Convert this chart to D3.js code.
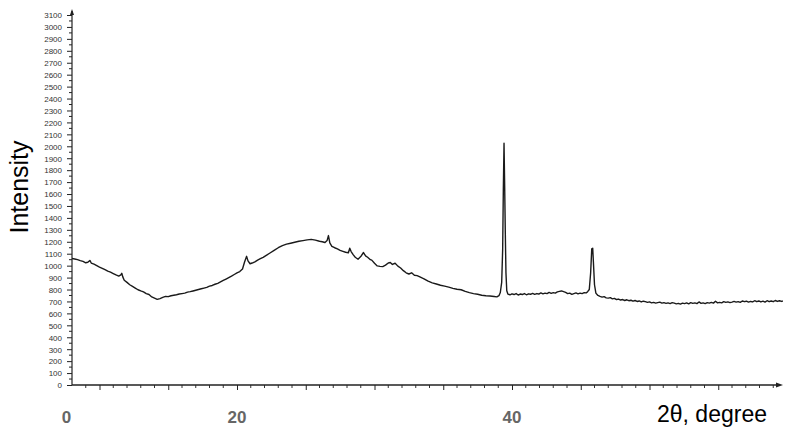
<!DOCTYPE html>
<html><head><meta charset="utf-8">
<script src="https://cdn.jsdelivr.net/npm/d3@7"></script>
<style>html,body{margin:0;padding:0;background:#fff;}svg{display:block;}</style>
</head><body>
<svg id="chart" width="791" height="437"></svg>
<script>
const angles = [8.0,8.2,8.4,8.6,8.8,9.0,9.15,9.3,9.4,9.6,9.8,10.0,10.2,10.4,10.6,10.8,11.0,11.2,11.4,11.55,11.62,11.7,11.8,12.0,12.2,12.4,12.6,12.8,13.0,13.2,13.4,13.6,13.8,14.0,14.2,14.4,14.6,14.8,15.0,15.2,15.4,15.6,15.8,16.0,16.2,16.4,16.6,16.8,17.0,17.2,17.4,17.6,17.8,18.0,18.2,18.4,18.6,18.8,19.0,19.2,19.4,19.6,19.8,20.0,20.2,20.4,20.55,20.7,20.8,20.95,21.1,21.3,21.5,21.7,21.9,22.1,22.4,22.7,23.0,23.3,23.6,23.9,24.2,24.5,24.8,25.1,25.4,25.7,26.0,26.2,26.4,26.55,26.65,26.75,26.9,27.1,27.3,27.5,27.7,27.9,28.1,28.2,28.3,28.46,28.6,28.8,29.0,29.2,29.35,29.5,29.7,29.8,30.0,30.2,30.4,30.6,30.8,31.0,31.15,31.3,31.5,31.7,31.9,32.1,32.3,32.5,32.7,32.9,33.1,33.3,33.6,33.9,34.2,34.5,34.8,35.1,35.4,35.7,36.0,36.3,36.6,36.9,37.2,37.5,37.8,38.1,38.4,38.7,38.9,39.05,39.15,39.25,39.32,39.37,39.42,39.47,39.51,39.56,39.62,
39.7,39.85,40.0,40.15,40.3,40.45,40.6,40.75,40.9,41.05,41.2,41.35,41.5,41.65,41.8,41.95,42.1,42.25,42.4,42.55,42.7,42.85,43.0,43.15,43.3,43.45,43.6,43.75,43.9,44.05,44.2,44.35,44.5,44.65,44.8,44.95,45.1,45.25,45.4,45.5,45.62,45.72,45.8,45.87,45.92,46.0,46.1,46.25,
46.4,46.55,46.7,46.85,47.0,47.15,47.3,47.45,47.6,47.75,47.9,48.05,48.2,48.35,48.5,48.65,48.8,48.95,49.1,49.25,49.4,49.55,49.7,49.85,50.0,50.15,50.3,50.45,50.6,50.75,50.9,51.05,51.2,51.35,51.5,51.65,51.8,51.95,52.1,52.25,52.4,52.55,52.7,52.85,53.0,53.15,53.3,53.45,53.6,53.75,53.9,54.05,54.2,54.35,54.5,54.65,54.8,54.95,55.1,55.25,55.4,55.55,55.7,55.85,56.0,56.15,56.3,56.45,56.6,56.75,56.9,57.05,57.2,57.35,57.5,57.65,57.8,57.95,58.1,58.25,58.4,58.55,58.7,58.85,59.0,59.15,59.3,59.45,59.6,59.7];
const intensity = [1060,1056,1050,1042,1036,1024,1028,1044,1022,1012,1000,988,978,966,954,946,934,922,912,922,936,904,878,860,840,826,812,798,788,780,766,758,738,728,718,724,734,742,740,748,752,756,762,766,770,778,782,788,794,800,806,812,818,828,834,844,852,864,876,888,900,912,926,940,950,972,1030,1078,1040,1016,1022,1032,1046,1058,1070,1084,1106,1128,1150,1168,1180,1188,1196,1204,1210,1216,1220,1214,1204,1200,1194,1210,1252,1190,1162,1150,1140,1128,1120,1112,1108,1146,1118,1090,1070,1054,1076,1110,1082,1070,1050,1046,1020,998,994,992,1004,1022,1026,1010,1020,996,980,958,940,930,940,920,916,906,890,870,856,846,836,828,820,810,802,798,784,774,766,760,752,748,746,742,738,748,775,860,1130,1640,2025,1640,1300,940,790,
762,756,764,758,766,754,762,758,766,756,764,760,768,760,766,762,772,764,770,766,776,768,774,770,780,784,788,782,776,766,770,760,766,772,764,770,766,774,772,782,800,940,1140,1146,1030,840,770,750,
742,736,740,730,728,732,722,726,716,720,712,716,708,714,706,710,702,708,700,704,696,702,698,692,696,688,692,686,690,694,686,690,684,688,682,690,686,680,684,678,686,682,688,680,690,684,688,682,696,684,688,682,690,686,692,686,702,688,692,688,698,692,696,690,694,700,694,698,692,704,698,702,694,700,696,706,698,704,696,702,694,706,698,704,698,708,700,706,700,704];
const yTickValues = [0,100,200,300,400,500,600,700,800,900,1000,1100,1200,1300,1400,1500,1600,1700,1800,1900,2000,2100,2200,2300,2400,2500,2600,2700,2800,2900,3000,3100];
const xTickLabels = ["0","20","40"];
const xTickLabelAt = [7.6,20,40];
const xTitle = "2θ, degree";
const yTitle = "Intensity";

const svg = d3.select("#chart");
const x = d3.scaleLinear().domain([8, 60]).range([72, 787]);
const y = d3.scaleLinear().domain([0, 3100]).range([385, 15]);

// Y axis
const gy = svg.append("g").attr("transform","translate(72,0)");
gy.call(d3.axisLeft(y).tickValues(yTickValues).tickSize(5).tickFormat(d3.format("d")));
gy.select(".domain").remove();
gy.selectAll(".tick line").attr("stroke","#222");
gy.selectAll(".tick text").attr("font-family","Liberation Sans, Arial, sans-serif").attr("font-size","8px").attr("fill","#333").attr("x",-10).attr("dy","0.35em");
const minorY = d3.range(50, 3100, 100);
gy.selectAll(".minor").data(minorY).enter().append("line")
  .attr("x1",-3).attr("x2",0).attr("y1",d=>y(d)).attr("y2",d=>y(d)).attr("stroke","#222");
svg.append("line").attr("x1",72).attr("x2",72).attr("y1",y(0)).attr("y2",11).attr("stroke","#222").attr("stroke-width",1.2);
svg.append("path").attr("d","M72,9 L70,15 L74,15 Z").attr("fill","#222");

// X axis
const gx = svg.append("g").attr("transform","translate(0,"+y(0)+")");
gx.call(d3.axisBottom(x).tickValues(d3.range(10,60,5)).tickSize(5).tickFormat(""));
gx.select(".domain").remove();
gx.selectAll(".tick line").attr("stroke","#222");
gx.selectAll(".minor").data(d3.range(9,60,1).filter(d=>d%5!==0)).enter().append("line")
  .attr("x1",d=>x(d)).attr("x2",d=>x(d)).attr("y1",0).attr("y2",3).attr("stroke","#333");
svg.append("line").attr("x1",72).attr("x2",779).attr("y1",y(0)).attr("y2",y(0)).attr("stroke","#222").attr("stroke-width",1.4);
svg.append("path").attr("d","M783,"+y(0)+" L776,"+(y(0)-2.5)+" L776,"+(y(0)+2.5)+" Z").attr("fill","#222");

// x tick labels
svg.selectAll(".xl").data(xTickLabels).enter().append("text")
  .attr("x",(d,i)=>x(xTickLabelAt[i])).attr("y",423).attr("text-anchor","middle")
  .attr("font-family","Liberation Sans, Arial, sans-serif").attr("font-size","17px").attr("font-weight","bold").attr("fill","#666")
  .text(d=>d);

// titles
svg.append("text").attr("x",657).attr("y",422).attr("font-family","Liberation Sans, Arial, sans-serif").attr("font-size","23px").attr("fill","#000").text(xTitle);
svg.append("text").attr("transform","translate(28,187) rotate(-90)").attr("text-anchor","middle").attr("font-family","Liberation Sans, Arial, sans-serif").attr("font-size","25px").attr("fill","#000").text(yTitle);

// data line
const pts = angles.map((a,i)=>[a,intensity[i]]);
svg.append("path").datum(pts).attr("fill","none").attr("stroke","#1a1a1a").attr("stroke-width",1.4).attr("stroke-linejoin","round")
  .attr("d", d3.line().x(d=>x(d[0])).y(d=>y(d[1])));
</script>
</body></html>
